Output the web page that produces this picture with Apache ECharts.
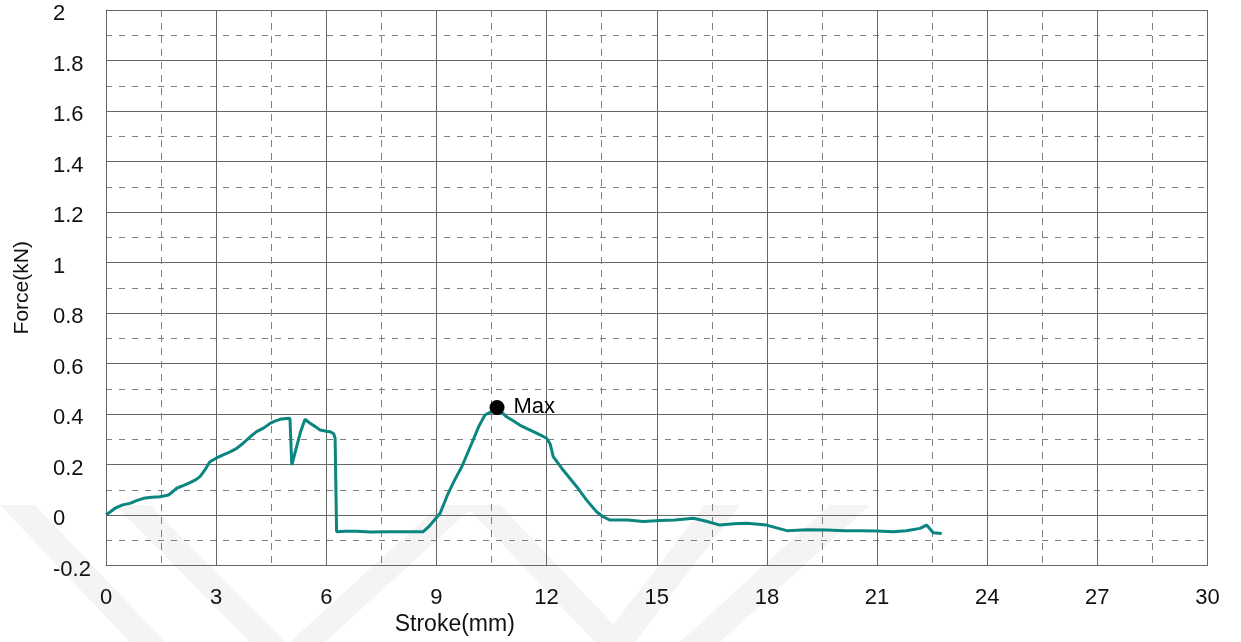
<!DOCTYPE html>
<html>
<head>
<meta charset="utf-8">
<script src="https://cdn.jsdelivr.net/npm/echarts@6/dist/echarts.min.js"></script>
<style>
  html, body { margin: 0; padding: 0; background: #ffffff; }
  #chart { width: 1241px; height: 642px; }
</style>
</head>
<body>
<div id="chart"></div>
<script>
// ---- data ----
const strokeMm = [
  0, 0.25, 0.45, 0.65, 0.85, 1.02, 1.25, 1.47, 1.70, 1.80, 1.92, 2.10, 2.29, 2.45, 2.56, 2.70, 2.83,
  3.00, 3.19, 3.38, 3.56, 3.70, 3.83, 3.97, 4.10, 4.30, 4.47, 4.60, 4.74, 4.90, 5.01, 5.06, 5.19,
  5.30, 5.42, 5.56, 5.70, 5.83, 6.00, 6.10, 6.20, 6.24, 6.28, 6.50, 6.83, 7.20, 7.73, 8.20, 8.64,
  8.80, 8.91, 9.10, 9.32, 9.50, 9.69, 10.00, 10.15, 10.32, 10.50, 10.64, 10.75, 10.91, 11.10, 11.27,
  11.45, 11.64, 11.85, 12.00, 12.10, 12.18, 12.45, 12.82, 13.09, 13.36, 13.54, 13.73, 14.20, 14.63,
  15.09, 15.50, 16.00, 16.35, 16.72, 17.10, 17.45, 17.99, 18.54, 19.10, 19.63, 20.10, 20.53, 21.00,
  21.44, 21.80, 22.17, 22.35, 22.53, 22.76
];
const forceKn = [
  0, 0.027, 0.040, 0.046, 0.058, 0.066, 0.070, 0.072, 0.079, 0.090, 0.106, 0.116, 0.128, 0.140, 0.152, 0.180, 0.211,
  0.225, 0.238, 0.250, 0.264, 0.280, 0.297, 0.315, 0.330, 0.345, 0.363, 0.372, 0.379, 0.382, 0.383, 0.198, 0.270,
  0.330, 0.379, 0.363, 0.350, 0.337, 0.332, 0.330, 0.322, 0.304, -0.066, -0.064, -0.064, -0.067, -0.066, -0.066, -0.066,
  -0.045, -0.026, 0.007, 0.086, 0.140, 0.191, 0.297, 0.350, 0.396, 0.410, 0.416, 0.410, 0.389, 0.372, 0.356,
  0.343, 0.330, 0.315, 0.304, 0.280, 0.231, 0.178, 0.112, 0.059, 0.013, -0.007, -0.020, -0.020, -0.026,
  -0.022, -0.020, -0.013, -0.025, -0.040, -0.035, -0.033, -0.040, -0.062, -0.058, -0.059, -0.062, -0.062, -0.063,
  -0.066, -0.062, -0.053, -0.040, -0.070, -0.073
];
const maxStroke = [10.65];
const maxForce = [0.426];
const maxLabel = 'Max';
const xName = 'Stroke(mm)';
const yName = 'Force(kN)';
const xMin = 0, xMax = 30, xStep = 3;
const yMin = -0.2, yMax = 2, yStep = 0.2;

const FONT = '"Liberation Sans", Arial, sans-serif';
const chart = echarts.init(document.getElementById('chart'));

const watermark = [
  [[0,505],[35,505],[165,642],[130,642]],
  [[115,505],[150,505],[285,642],[250,642]],
  [[290,642],[325,642],[475,505],[440,505]],
  [[465,505],[500,505],[630,642],[595,642]],
  [[600,642],[635,642],[740,505],[705,505]],
  [[680,642],[720,642],[870,505],[830,505]]
].map(pts => ({ type: 'polygon', z: -10, shape: { points: pts }, style: { fill: '#f4f4f4' }, silent: true }));

chart.setOption({
  animation: false,
  backgroundColor: '#ffffff',
  graphic: { z: -10, zlevel: 0, elements: watermark },
  grid: { left: 106, right: 33.5, top: 10, bottom: 76.5, containLabel: false },
  xAxis: {
    type: 'value', min: xMin, max: xMax, interval: xStep, z: 1,
    name: xName, nameLocation: 'middle', nameGap: 41,
    nameTextStyle: { fontFamily: FONT, fontSize: 23, color: '#111', padding: [0, 404, 0, 0] },
    axisLine: { onZero: false, lineStyle: { color: '#666', width: 1 } },
    axisTick: { show: false },
    minorTick: { show: false, splitNumber: 2 },
    axisLabel: { fontFamily: FONT, fontSize: 22, color: '#111', margin: 21 },
    splitLine: { show: true, lineStyle: { color: '#666', width: 1 } },
    minorSplitLine: { show: true, lineStyle: { color: '#808080', width: 1, type: [7, 6] } }
  },
  yAxis: {
    type: 'value', min: yMin, max: yMax, interval: yStep, z: 1,
    name: yName, nameLocation: 'middle', nameGap: 73, nameRotate: 90,
    nameTextStyle: { fontFamily: FONT, fontSize: 21, color: '#111' },
    axisLine: { show: true, lineStyle: { color: '#666', width: 1 } },
    axisTick: { show: false },
    minorTick: { show: false, splitNumber: 2 },
    axisLabel: { fontFamily: FONT, fontSize: 22, color: '#111', margin: 53, align: 'left',
                 verticalAlign: 'top', lineHeight: 8 },
    splitLine: { show: true, lineStyle: { color: '#666', width: 1 } },
    minorSplitLine: { show: true, lineStyle: { color: '#808080', width: 1, type: [6, 7] } }
  },
  series: [
    {
      type: 'line',
      data: strokeMm.map((x, i) => [x, forceKn[i]]),
      showSymbol: false,
      lineStyle: { color: '#0a8580', width: 3 },
      z: 3
    },
    {
      type: 'scatter',
      data: maxStroke.map((x, i) => [x, maxForce[i]]),
      symbol: 'circle', symbolSize: 15,
      itemStyle: { color: '#000', opacity: 1 },
      label: { show: true, position: 'right', distance: 9, formatter: maxLabel,
               fontFamily: FONT, fontSize: 22, color: '#000' },
      emphasis: { disabled: true },
      z: 4
    }
  ]
});
</script>
</body>
</html>
